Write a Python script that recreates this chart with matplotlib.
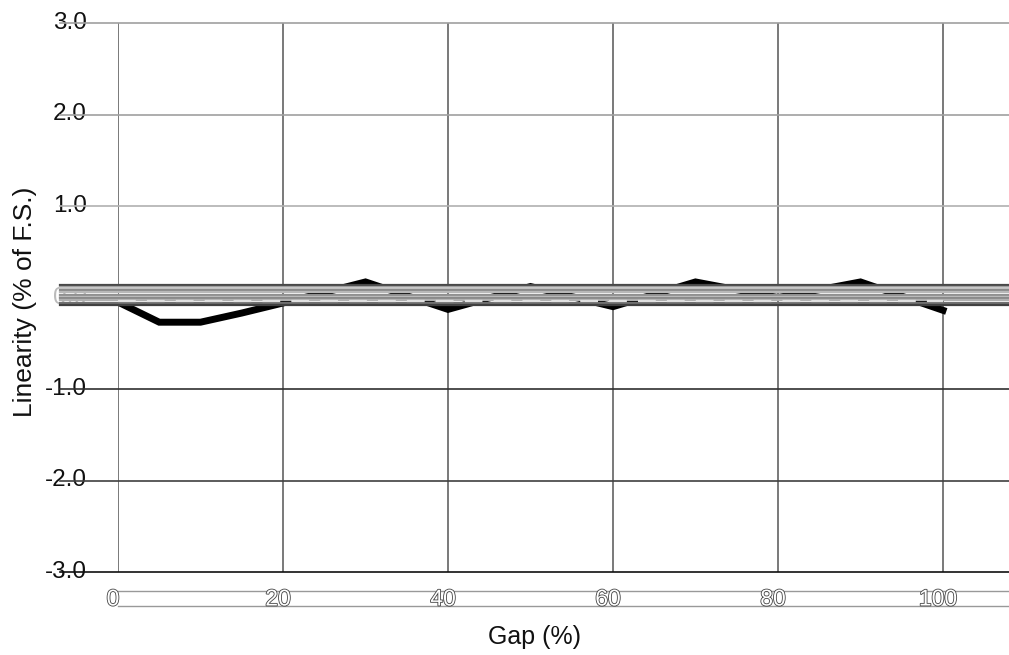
import matplotlib
matplotlib.use('Agg')
import matplotlib.pyplot as plt
import matplotlib.patheffects as pe
import numpy as np

plt.rcParams['font.family'] = ['Liberation Sans', 'DejaVu Sans']

# data
gap = [0, 5, 10, 15, 20, 30, 40, 50, 60, 70, 80, 90, 100]
linearity = [-0.05, -0.27, -0.27, -0.17, -0.06, 0.17, -0.13, 0.12, -0.10, 0.17, 0.0, 0.17, -0.14]
gap_dash = [0, 20, 40, 60, 80, 100]
linearity_dash = [-0.04, -0.04, -0.04, -0.04, -0.04, -0.04]
# flat grey traces bunched around zero
band_levels = [0.14, 0.12, 0.10, 0.08, 0.055, 0.03, 0.01, -0.01, -0.03, -0.055, -0.08]
band_colors = ['#484848', '#9a9a9a', '#c8c8c8', '#8a8a8a', '#b8b8b8', '#909090',
               '#c0c0c0', '#8a8a8a', '#b0b0b0', '#707070', '#404040']

x_ticks = [0, 20, 40, 60, 80, 100]
y_ticks = [3.0, 2.0, 1.0, 0.0, -1.0, -2.0, -3.0]
y_labels = ['3.0', '2.0', '1.0', '0.0', '-1.0', '-2.0', '-3.0']
grid_colors = ['#a0a0a0', '#a0a0a0', '#b0b0b0', '#909090', '#303030', '#404040', '#101010']

fig = plt.figure(figsize=(10.09, 6.55), dpi=100)
ax = fig.add_axes([118 / 1009, 1 - 572 / 655, 1 - 118 / 1009, (572 - 23) / 655])
ax.set_xlim(0, 108)
ax.set_ylim(-3, 3)
for s in ax.spines.values():
    s.set_visible(False)
ax.set_xticks([])
ax.set_yticks([])

# vertical grid
for xv in x_ticks:
    ax.plot([xv, xv], [-3, 3], color='#555555', lw=1.1, zorder=1)

# horizontal grid, running left through the tick labels
for yv, c in zip(y_ticks, grid_colors):
    ax.plot([-7, 108], [yv, yv], color=c, lw=1.2, clip_on=False, zorder=1)

# band of grey traces
for lv, c in zip(band_levels, band_colors):
    ax.plot([-7, 108], [lv, lv], color=c, lw=1.6, clip_on=False, zorder=3)

ax.plot(gap, linearity, color='black', lw=5, zorder=2, solid_joinstyle='miter')
ax.plot(gap_dash, linearity_dash, color='#e0e0e0', lw=1.6, dashes=(8, 5), zorder=4)

# y tick labels
for yv, lab in zip(y_ticks, y_labels):
    col = '#bbbbbb' if yv == 0 else '#111111'
    ax.text(-3.8, yv, lab, ha='right', va='center', fontsize=17.5, color=col, zorder=0)

# x tick labels, hollow
for xv in x_ticks:
    fig.text((118 + xv * 8.25 - 5) / 1009, 1 - 599 / 655, str(xv), ha='center', va='center',
             fontsize=16.5, color='white',
             path_effects=[pe.Stroke(linewidth=1.2, foreground='#444444'), pe.Normal()])
for yp in [591, 606]:
    fig.add_artist(plt.Line2D([118 / 1009, 1], [1 - yp / 655, 1 - yp / 655],
                              color='#999999', lw=1, zorder=0))

fig.text(25 / 1009, 1 - 302 / 655, 'Linearity (% of F.S.)', rotation=90,
         ha='center', va='center', fontsize=19, color='#111111')
fig.text(535 / 1009, 1 - 637 / 655, 'Gap (%)', ha='center', va='center',
         fontsize=18, color='#111111')

fig.savefig('out.png', dpi=100)
